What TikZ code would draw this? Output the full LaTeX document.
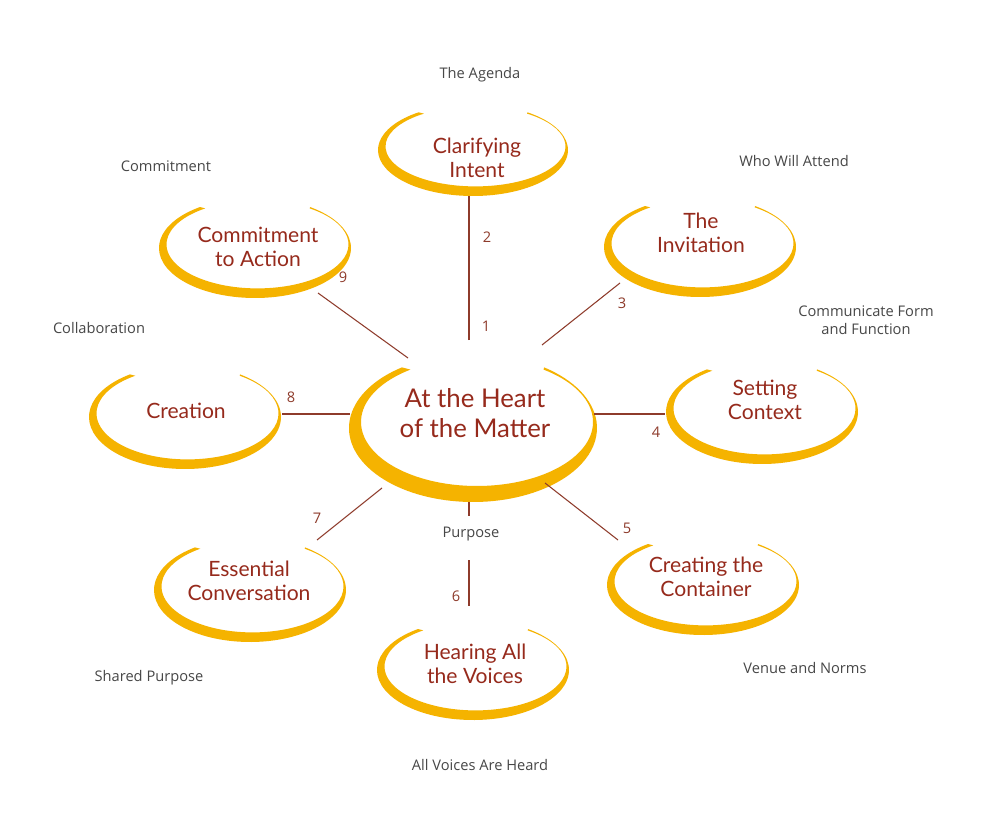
\documentclass[tikz,border=0pt]{standalone}
\usepackage{fontspec}
\setmainfont{Open Sans}
\newfontfamily\headfont{Lato}
\usetikzlibrary{calc}
\definecolor{sw}{HTML}{F5B300}
\definecolor{ttl}{HTML}{962A1C}
\definecolor{spk}{HTML}{8E3B2B}
\definecolor{lbl}{HTML}{474747}
\newcommand{\myswoosh}[6]{%
 \fill[sw] ($(#1,#2)+(125:#3 and #4)$) arc[start angle=125,end angle=415,x radius=#3,y radius=#4]
 -- ($(#1+#5*0.5,#2+#6*0.6)+(415:#3-#5 and #4-#6)$) arc[start angle=415,end angle=125,x radius=#3-#5,y radius=#4-#6] -- cycle;}
\tikzset{
 ttlnode/.style={text=ttl,font=\headfont\fontsize{18}{20}\selectfont,align=center},
 lblnode/.style={text=lbl,font=\fontsize{12.5}{15}\selectfont,align=center},
 numnode/.style={text=spk,font=\fontsize{12.5}{15}\selectfont},
 spoke/.style={draw=spk,line width=0.9pt}}
\begin{document}
\begin{tikzpicture}[x=0.03cm,y=0.03cm]
\useasboundingbox (0,0) rectangle (1000,-817);
\fill[white] (0,0) rectangle (1000,-817);
% swooshes
\myswoosh{473}{-428}{124}{74}{8}{10}
\myswoosh{473}{-150}{95}{46}{5}{6}
\myswoosh{700}{-247}{96}{50}{5}{6}
\myswoosh{255}{-248}{96}{50}{5}{6}
\myswoosh{762}{-412}{96}{52}{5}{6}
\myswoosh{185}{-417}{96}{52}{5}{6}
\myswoosh{703}{-585}{96}{50}{5}{6}
\myswoosh{250}{-590}{96}{52}{5}{6}
\myswoosh{473}{-670}{96}{50}{5}{6}
% titles
\node[ttlnode,font=\headfont\fontsize{22}{26}\selectfont] (c) at (475,-413) {At the Heart\\of the Matter};
\node[ttlnode] (n2) at (477,-158) {Clarifying\\Intent};
\node[ttlnode] (n3) at (701,-233) {The\\Invitation};
\node[ttlnode] (n9) at (258,-247) {Commitment\\to Action};
\node[ttlnode] (n4) at (765,-400) {Setting\\Context};
\node[ttlnode] (n8) at (186,-411) {Creation};
\node[ttlnode] (n5) at (706,-577) {Creating the\\Container};
\node[ttlnode] (n7) at (249,-581) {Essential\\Conversation};
\node[ttlnode] (n6) at (475,-664) {Hearing All\\the Voices};
% labels
\node[lblnode] (l1) at (480,-75) {The Agenda};
\node[lblnode] (l2) at (166,-166) {Commitment};
\node[lblnode] (l3) at (794,-161) {Who Will Attend};
\node[lblnode,text depth=0pt] (l4) at (866,-320) {Communicate Form\\and Function};
\node[lblnode] (l5) at (99,-328) {Collaboration};
\node[lblnode] (l6) at (149,-678) {Shared Purpose};
\node[lblnode] (l7) at (805,-668) {Venue and Norms};
\node[lblnode] (l8) at (480,-765) {All Voices Are Heard};
\node[lblnode] (pu) at (471,-534) {Purpose};
% spoke ends
\coordinate (a1) at (469,-340); \coordinate (b1) at (469,-196);
\coordinate (a3) at (542,-345); \coordinate (b3) at (620,-283);
\coordinate (a4) at (594,-414); \coordinate (b4) at (665,-414);
\coordinate (a5) at (545,-483); \coordinate (b5) at (618,-540);
\coordinate (a6) at (469,-560); \coordinate (b6) at (469,-606);
\coordinate (a6t) at (469,-502); \coordinate (b6t) at (469,-516);
\coordinate (a7) at (382,-488); \coordinate (b7) at (317,-540);
\coordinate (a8) at (350,-414); \coordinate (b8) at (282,-414);
\coordinate (a9) at (408,-358); \coordinate (b9) at (318,-293);
\foreach \i in {1,3,4,5,6,6t,7,8,9} \draw[spoke] (a\i) -- (b\i);
% numbers
\node[numnode] (k1) at (486,-326) {1};
\node[numnode] (k2) at (487,-237) {2};
\node[numnode] (k3) at (622,-303) {3};
\node[numnode] (k4) at (656,-432) {4};
\node[numnode] (k5) at (627,-528) {5};
\node[numnode] (k6) at (456,-596) {6};
\node[numnode] (k7) at (317,-518) {7};
\node[numnode] (k8) at (291,-397) {8};
\node[numnode] (k9) at (343,-277) {9};
\end{tikzpicture}
\end{document}
